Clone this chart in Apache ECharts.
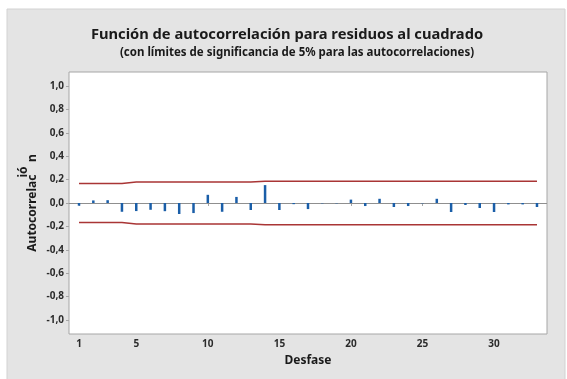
<!DOCTYPE html>
<html>
<head>
<meta charset="utf-8">
<script src="https://cdn.jsdelivr.net/npm/echarts@6/dist/echarts.min.js"></script>
<style>
  html, body { margin: 0; padding: 0; background: #ffffff; }
  #chart { width: 567px; height: 379px; }
</style>
</head>
<body>
<div id="chart"></div>
<script>
// Lags of the autocorrelation function
const lags = [1, 2, 3, 4, 5, 6, 7, 8, 9, 10, 11, 12, 13, 14, 15, 16, 17,
              18, 19, 20, 21, 22, 23, 24, 25, 26, 27, 28, 29, 30, 31, 32, 33];

// Autocorrelation of the squared residuals at each lag
const acf = [-0.023, 0.022, 0.024, -0.075, -0.069, -0.058, -0.070, -0.094, -0.086, 0.070,
             -0.075, 0.052, -0.060, 0.153, -0.060, -0.010, -0.052, -0.003, -0.003, 0.029,
             -0.026, 0.036, -0.034, -0.026, -0.003, 0.036, -0.077, -0.017, -0.043, -0.077,
             -0.012, -0.012, -0.034];

// 5% significance limits (upper bound; the lower one is its mirror)
const limit = [0.166, 0.166, 0.166, 0.166, 0.179, 0.179, 0.179, 0.179, 0.179, 0.179,
               0.179, 0.179, 0.179, 0.186, 0.186, 0.186, 0.186, 0.186, 0.186, 0.186,
               0.186, 0.186, 0.186, 0.186, 0.186, 0.186, 0.186, 0.186, 0.186, 0.186,
               0.186, 0.186, 0.186];

// Tick labels
const xTicks = [1, 5, 10, 15, 20, 25, 30];
const yTicks = [-1.0, -0.8, -0.6, -0.4, -0.2, 0.0, 0.2, 0.4, 0.6, 0.8, 1.0];

const titleText = 'Función de autocorrelación para residuos al cuadrado';
const subtitleText = '(con límites de significancia de 5% para las autocorrelaciones)';
const xName = 'Desfase';

const FONT = '"Noto Sans", "DejaVu Sans", sans-serif';
const TXT = '#2b2b2b';

const chart = echarts.init(document.getElementById('chart'), null, { renderer: 'canvas' });

const acfData = lags.map((l, i) => [l, acf[i]]);
const upperData = lags.map((l, i) => [l, limit[i]]);
const lowerData = lags.map((l, i) => [l, -limit[i]]);

chart.setOption({
  animation: false,
  backgroundColor: '#ffffff',
  graphic: [
    {
      type: 'rect', z: -10, silent: true,
      shape: { x: 7, y: 9, width: 558, height: 372 },
      style: { fill: '#e4e4e4', stroke: '#d2d2d2', lineWidth: 1 }
    },
    {
      type: 'text', silent: true,
      style: {
        text: titleText, x: 287, y: 35, align: 'center', verticalAlign: 'middle',
        font: 'bold 14.7px ' + FONT, fill: '#1a1a1a'
      }
    },
    {
      type: 'text', silent: true,
      style: {
        text: subtitleText, x: 297, y: 53, align: 'center', verticalAlign: 'middle',
        font: 'bold 11.5px ' + FONT, fill: '#1a1a1a'
      }
    },
    {
      type: 'text', silent: true, rotation: Math.PI / 2,
      x: 33, y: 203,
      style: {
        text: 'Autocorrelac    n', x: 0, y: 0, align: 'center', verticalAlign: 'middle',
        font: 'bold 12px ' + FONT, fill: '#1a1a1a'
      }
    },
    {
      type: 'text', silent: true, rotation: Math.PI / 2,
      x: 24, y: 172,
      style: {
        text: 'ió', x: 0, y: 0, align: 'center', verticalAlign: 'middle',
        font: 'bold 12px ' + FONT, fill: '#1a1a1a'
      }
    }
  ],
  grid: {
    left: 69, right: 20, top: 72, bottom: 45,
    show: true, backgroundColor: '#ffffff', borderColor: '#a6a6a6', borderWidth: 1
  },
  xAxis: {
    type: 'value', min: 0.3, max: 33.7,
    name: xName, nameLocation: 'middle', nameGap: 21,
    nameTextStyle: { fontFamily: FONT, fontWeight: 'bold', fontSize: 12, color: '#1a1a1a' },
    axisLine: { show: false },
    splitLine: { show: false },
    axisTick: { show: true, length: 3, customValues: xTicks, lineStyle: { color: '#a6a6a6' } },
    axisLabel: {
      customValues: xTicks, margin: 5,
      fontFamily: FONT, fontWeight: 'bold', fontSize: 10, color: TXT
    }
  },
  yAxis: {
    type: 'value', min: -1.12, max: 1.12,
    axisLine: { show: false },
    splitLine: { show: false },
    axisTick: { show: true, length: 3, customValues: yTicks, lineStyle: { color: '#a6a6a6' } },
    axisLabel: {
      customValues: yTicks, margin: 5,
      fontFamily: FONT, fontWeight: 'bold', fontSize: 10, color: TXT,
      formatter: v => v.toFixed(1).replace('.', ',')
    }
  },
  series: [
    {
      type: 'line', data: upperData, symbol: 'none', silent: true,
      lineStyle: { color: '#a93535', width: 1.5 }, z: 2
    },
    {
      type: 'line', data: lowerData, symbol: 'none', silent: true,
      lineStyle: { color: '#a93535', width: 1.5 }, z: 2
    },
    {
      type: 'bar', data: acfData, barWidth: 2.5, silent: true,
      itemStyle: { color: '#1a5ea8' }, z: 4,
      markLine: {
        silent: true, symbol: 'none', label: { show: false },
        lineStyle: { color: '#8f8f8f', width: 1.2, type: 'solid' },
        data: [{ yAxis: 0 }],
        z: 3
      }
    }
  ]
});
</script>
</body>
</html>
